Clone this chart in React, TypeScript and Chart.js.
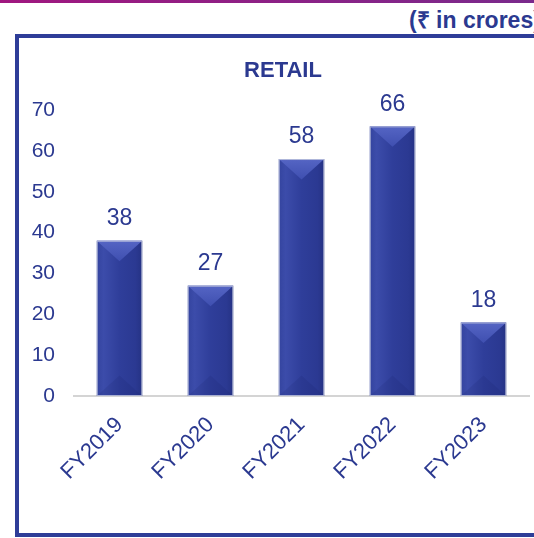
import React, { useEffect, useRef } from "react";
import { Chart, registerables } from "chart.js";

Chart.register(...registerables);

const categories = ["FY2019", "FY2020", "FY2021", "FY2022", "FY2023"];
const retailValues = [38, 27, 58, 66, 18];
const yTicks = [0, 10, 20, 30, 40, 50, 60, 70];
const chartTitle = "RETAIL";
const unitNote = "(₹ in crores)";

const BLUE = "#2B3990";
const FONT = "'Liberation Sans', Arial, sans-serif";

const bevelPlugin = {
  id: "bevel",
  afterDatasetsDraw(chart: any) {
    const ctx = chart.ctx;
    const meta = chart.getDatasetMeta(0);
    meta.data.forEach((bar: any, i: number) => {
      const w = bar.width;
      const left = bar.x - w / 2;
      const right = bar.x + w / 2;
      const top = bar.y;
      const bottom = bar.base;
      const h = bottom - top;
      const d = Math.min(w * 0.45, h / 2);
      ctx.save();
      const g = ctx.createLinearGradient(left, 0, right, 0);
      g.addColorStop(0, "#34449F");
      g.addColorStop(0.15, "#3C4CAA");
      g.addColorStop(0.5, "#2F3E9A");
      g.addColorStop(0.85, "#2B3992");
      g.addColorStop(1, "#253284");
      ctx.fillStyle = g;
      ctx.fillRect(left, top, w, h);
      ctx.beginPath();
      ctx.moveTo(left, top);
      ctx.lineTo(right, top);
      ctx.lineTo(bar.x, top + d);
      ctx.closePath();
      const tg = ctx.createLinearGradient(0, top, 0, top + d);
      tg.addColorStop(0, "#5565C4");
      tg.addColorStop(1, "#3F4FB0");
      ctx.fillStyle = tg;
      ctx.fill();
      ctx.beginPath();
      ctx.moveTo(left, bottom);
      ctx.lineTo(right, bottom);
      ctx.lineTo(bar.x, bottom - d);
      ctx.closePath();
      ctx.fillStyle = "rgba(20,28,90,0.12)";
      ctx.fill();
      ctx.strokeStyle = "rgba(200,205,225,0.8)";
      ctx.lineWidth = 1;
      ctx.strokeRect(left + 0.5, top + 0.5, w - 1, h - 1);
      ctx.fillStyle = BLUE;
      ctx.font = `23px ${FONT}`;
      ctx.textAlign = "center";
      ctx.textBaseline = "middle";
      ctx.fillText(String(retailValues[i]), bar.x, top - 22);
      ctx.restore();
    });
    ctx.save();
    ctx.fillStyle = BLUE;
    ctx.font = `bold 22px ${FONT}`;
    ctx.textAlign = "center";
    ctx.textBaseline = "middle";
    ctx.fillText(chartTitle, 283, 71);
    ctx.restore();
  },
};

export default function App() {
  const ref = useRef<HTMLCanvasElement>(null);
  useEffect(() => {
    if (!ref.current) return;
    const chart = new Chart(ref.current, {
      type: "bar",
      data: {
        labels: categories,
        datasets: [
          {
            data: retailValues,
            backgroundColor: "rgba(0,0,0,0)",
            borderWidth: 0,
            barPercentage: 0.5,
            categoryPercentage: 1,
          },
        ],
      },
      options: {
        responsive: false,
        animation: false,
        layout: { padding: { top: 110, right: 5, left: 0, bottom: 0 } },
        plugins: {
          legend: { display: false },
          tooltip: { enabled: false },
          title: { display: false },
        },
        scales: {
          x: {
            grid: { display: false, drawTicks: false },
            border: { display: true, color: "#D4D4D4", width: 2 },
            ticks: {
              color: BLUE,
              font: { family: FONT, size: 22 },
              minRotation: 45,
              maxRotation: 45,
              padding: 16,
            },
            afterFit(scale: any) {
              scale.height = 142;
            },
          },
          y: {
            min: 0,
            max: 70,
            afterBuildTicks(scale: any) {
              scale.ticks = yTicks.map((v) => ({ value: v }));
            },
            grid: { display: false, drawTicks: false },
            border: { display: false },
            ticks: {
              color: BLUE,
              font: { family: FONT, size: 21 },
              padding: 19,
            },
            afterFit(scale: any) {
              scale.width = 74;
            },
          },
        },
      },
      plugins: [bevelPlugin],
    });
    return () => chart.destroy();
  }, []);

  return (
    <div
      style={{
        position: "fixed",
        left: 0,
        top: 0,
        width: 534,
        height: 538,
        background: "#fff",
        overflow: "hidden",
      }}
    >
      <div
        style={{
          position: "absolute",
          left: 0,
          top: 0,
          width: 534,
          height: 3,
          background: "linear-gradient(90deg, #A0177F, #7A2A8C)",
        }}
      />
      <div
        style={{
          position: "absolute",
          left: 409,
          top: 3,
          whiteSpace: "nowrap",
          fontFamily: FONT,
          fontWeight: "bold",
          fontSize: 23,
          color: BLUE,
        }}
      >
        {unitNote}
      </div>
      <div
        style={{
          position: "absolute",
          left: 15,
          top: 34,
          width: 560,
          height: 503,
          border: "4px solid #2E3D98",
          boxSizing: "border-box",
        }}
      />
      <canvas
        ref={ref}
        width={534}
        height={538}
        style={{ position: "absolute", left: 0, top: 0 }}
      />
    </div>
  );
}
